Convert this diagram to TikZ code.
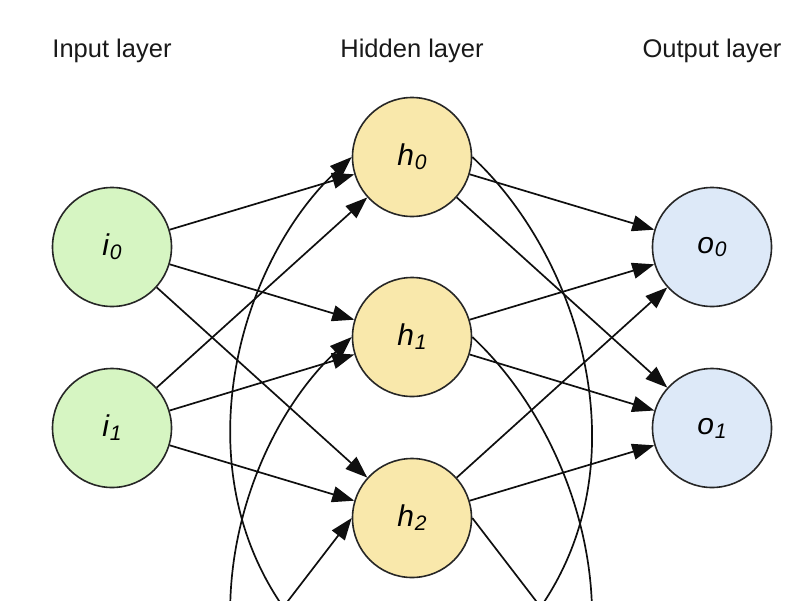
\documentclass[tikz,border=0pt]{standalone}
\usepackage{fontspec}
\setmainfont{Liberation Sans}
\usetikzlibrary{arrows.meta}
\definecolor{ingreen}{RGB}{214,245,194}
\definecolor{hidyellow}{RGB}{249,232,171}
\definecolor{outblue}{RGB}{221,233,248}
\definecolor{edgecol}{RGB}{15,15,15}
\newcommand\nlbl[2]{{\fontsize{30}{30}\selectfont\itshape #1\kern0.03em\raisebox{-0.13em}{\fontsize{21}{21}\selectfont\itshape #2}}}
\begin{document}
\begin{tikzpicture}[x=1pt,y=-1pt,
  neuron/.style={circle, draw=black!85, line width=1.6pt, minimum size=119pt, inner sep=0pt},
  inp/.style={neuron, fill=ingreen},
  hid/.style={neuron, fill=hidyellow},
  outp/.style={neuron, fill=outblue},
  conn/.style={line width=1.7pt, draw=edgecol},
  arr/.style={conn, -{Triangle[length=22pt,width=16pt]}},
  hdr/.style={anchor=base, font=\fontsize{25.5}{25.5}\selectfont, text=black!90}]
\useasboundingbox (0,0) rectangle (800,600);
\clip (0,0) rectangle (800,600);

% headers
\node[hdr] (tin) at (112,57) {Input layer};
\node[hdr] (thid) at (412,57) {Hidden layer};
\node[hdr] (tout) at (712,57) {Output layer};

% neurons
\node[inp] (i0) at (112,247) {\nlbl{i}{0}};
\node[inp] (i1) at (112,428) {\nlbl{i}{1}};
\node[hid] (h0) at (412,157) {\nlbl{h}{0}};
\node[hid] (h1) at (412,337) {\nlbl{h}{1}};
\node[hid] (h2) at (412,518) {\nlbl{h}{2}};
\node[outp] (o0) at (712,247) {\nlbl{o}{0}};
\node[outp] (o1) at (712,428) {\nlbl{o}{1}};

% off-picture ends
\coordinate (r1end) at (440,700);
\coordinate (r2end) at (440,880);
\coordinate (l1start) at (384,700);
\coordinate (l2start) at (384,880);
\coordinate (s2start) at (258,640);
\coordinate (d2end) at (566,640);

% straight connections
\foreach \a in {i0,i1} \foreach \b in {h0,h1,h2} \draw[arr] (\a) -- (\b);
\foreach \a in {h0,h1,h2} \foreach \b in {o0,o1} \draw[arr] (\a) -- (\b);

% recurrent arcs
\draw[conn] (h0.east) .. controls (604,280) and (670,560) .. (r1end);
\draw[conn] (h1.east) .. controls (604,460) and (670,740) .. (r2end);
\draw[arr] (l1start) .. controls (154,560) and (220,280) .. (h0.west);
\draw[arr] (l2start) .. controls (154,740) and (220,460) .. (h1.west);
\draw[arr] (s2start) -- (h2.west);
\draw[conn] (h2.east) -- (d2end);
\end{tikzpicture}
\end{document}
